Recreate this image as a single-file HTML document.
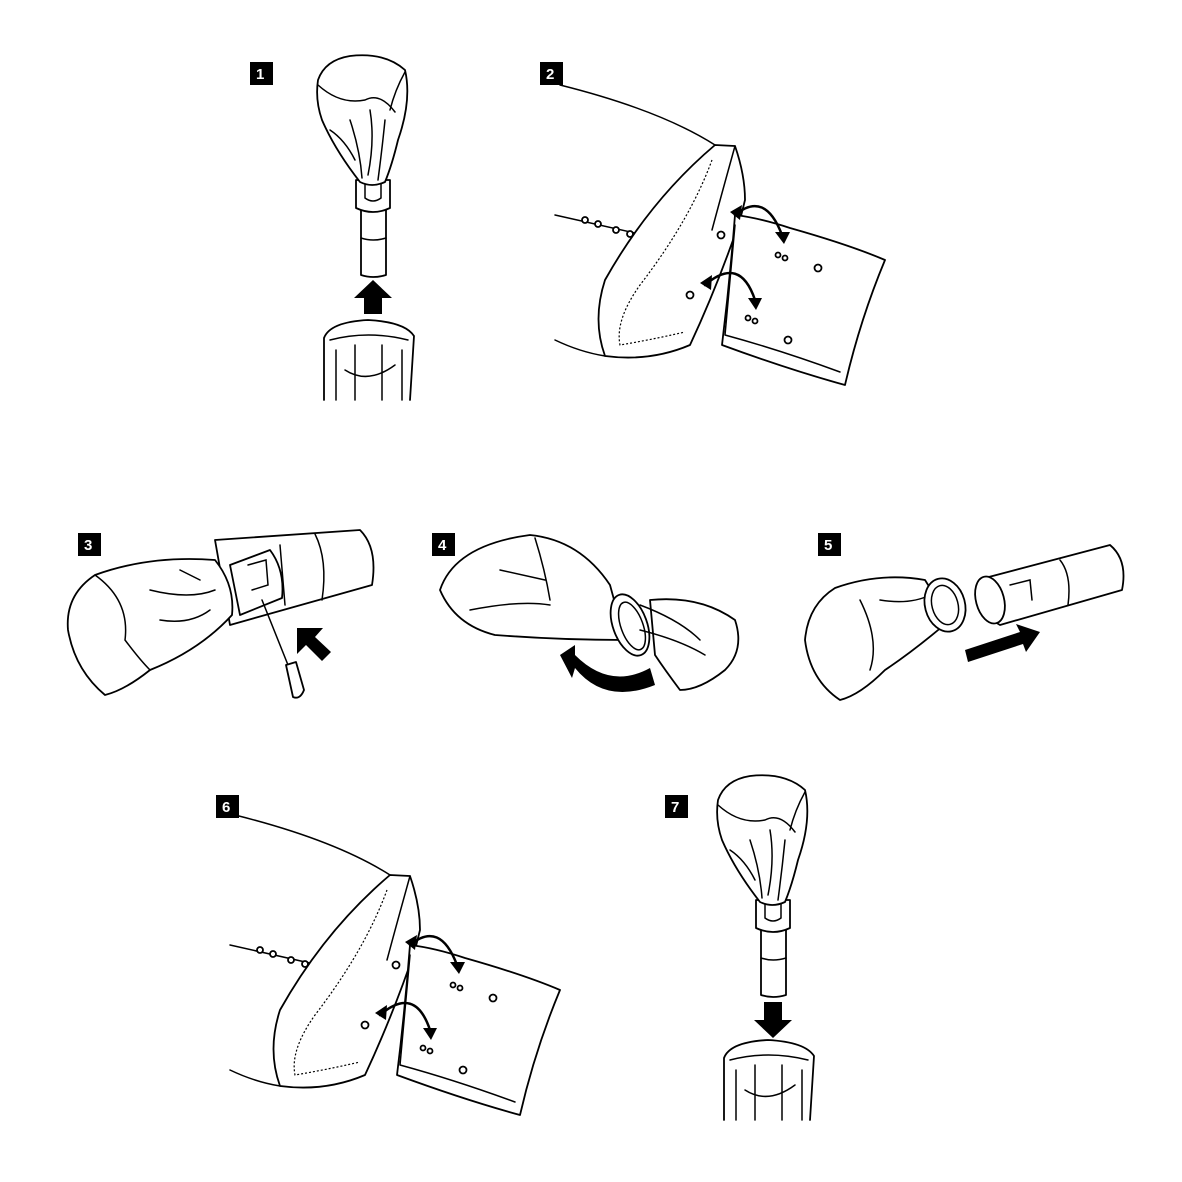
<!DOCTYPE html>
<html><head><meta charset="utf-8"><style>
html,body{margin:0;padding:0;background:#fff;}
svg{display:block}
text{font-family:"Liberation Sans",sans-serif;font-weight:bold;font-size:15px;fill:#fff}
.l{fill:#fff;stroke:#000;stroke-width:1.8;stroke-linejoin:round;stroke-linecap:round}
.n{fill:none;stroke:#000;stroke-width:1.5;stroke-linecap:round}
.d{fill:none;stroke:#000;stroke-width:1.2;stroke-dasharray:2 2}
.b{fill:#000}
</style></head><body>
<svg width="1182" height="1182" viewBox="0 0 1182 1182" xmlns="http://www.w3.org/2000/svg">
<defs>
<g id="p1">
  <path class="l" d="M324,400 L324,338 Q330,322 368,320 Q405,322 414,336 L410,400"/>
  <path class="n" d="M330,340 Q368,330 408,340 M336,350 L336,400 M402,350 L402,400 M355,345 L355,400 M382,345 L382,400 M345,370 Q368,385 395,365"/>
  <path class="l" d="M361,205 L361,275 Q373,279 386,275 L386,205 Z"/>
  <path class="n" d="M361,238 Q373,242 386,238"/>
  <path class="l" d="M356,180 L356,208 Q373,216 390,208 L390,180 Z"/>
  <path class="n" d="M365,184 L365,198 Q373,204 381,198 L381,184"/>
  <path class="l" d="M318,80 Q325,60 350,56 Q385,52 405,70 Q412,100 398,140 Q392,165 385,182 Q372,188 360,182 Q335,150 322,120 Q315,100 318,80 Z"/>
  <path class="n" d="M318,85 Q340,105 365,100 Q380,92 395,112 M405,72 Q395,90 390,110 M370,110 Q375,140 368,175 M350,120 Q360,150 362,178 M385,120 Q382,150 378,180 M330,130 Q345,140 355,160"/>
</g>
<g id="p2">
  <path class="n" d="M560,85 Q660,110 715,145"/>
  <path class="n" d="M555,215 Q600,225 648,236"/>
  <circle class="l" cx="585" cy="220" r="3"/><circle class="l" cx="598" cy="224" r="3"/><circle class="l" cx="616" cy="230" r="3"/><circle class="l" cx="630" cy="234" r="3"/>
  <path class="n" d="M555,340 Q580,352 605,356"/>
  <path class="l" d="M715,145 L735,146 Q745,175 745,200 L740,220 Q718,285 690,345 Q650,362 605,356 Q592,320 605,280 Q650,200 715,145 Z"/>
  <path class="d" d="M712,160 Q690,220 640,285 Q615,320 620,345 Q650,340 685,332"/>
  <path class="n" d="M735,146 Q720,200 712,230"/>
  <circle class="l" cx="721" cy="235" r="3.5"/><circle class="l" cx="690" cy="295" r="3.5"/>
  <path class="l" d="M735,215 Q760,218 790,228 Q850,245 885,260 Q860,320 845,385 Q790,370 722,345 Q730,280 735,215 Z"/>
  <path class="n" d="M735,225 L725,335 M725,335 Q780,350 840,372"/>
  <circle class="l" cx="818" cy="268" r="3.5"/><circle class="l" cx="788" cy="340" r="3.5"/>
  <circle class="l" cx="778" cy="255" r="2.5"/><circle class="l" cx="785" cy="258" r="2.5"/>
  <circle class="l" cx="748" cy="318" r="2.5"/><circle class="l" cx="755" cy="321" r="2.5"/>
  <path class="n" style="stroke-width:2.5" d="M735,215 Q765,190 782,235"/>
  <path class="b" d="M730,212 L742,205 L740,220 Z M775,232 L790,232 L784,244 Z"/>
  <path class="n" style="stroke-width:2.5" d="M705,285 Q740,255 755,300"/>
  <path class="b" d="M700,283 L712,275 L711,290 Z M748,298 L762,298 L756,310 Z"/>
</g>
</defs>

<rect x="250" y="62" width="23" height="23"/><text x="256" y="79">1</text>
<rect x="540" y="62" width="23" height="23"/><text x="546" y="79">2</text>
<rect x="78" y="533" width="23" height="23"/><text x="84" y="550">3</text>
<rect x="432" y="533" width="23" height="23"/><text x="438" y="550">4</text>
<rect x="818" y="533" width="23" height="23"/><text x="824" y="550">5</text>
<rect x="216" y="795" width="23" height="23"/><text x="222" y="812">6</text>
<rect x="665" y="795" width="23" height="23"/><text x="671" y="812">7</text>

<use href="#p1"/>
<path class="b" d="M373,280 L392,298 L382,298 L382,314 L364,314 L364,298 L354,298 Z"/>
<use href="#p2"/>

<g transform="translate(-325,730)"><use href="#p2"/></g>
<g transform="translate(400,720)"><use href="#p1"/></g>
<path class="b" d="M773,1038 L792,1020 L782,1020 L782,1002 L764,1002 L764,1020 L754,1020 Z"/>

<path class="l" d="M215,540 L360,530 Q378,548 372,585 L230,625 Z"/>
<path class="n" d="M315,534 Q328,560 322,600 M280,545 L285,605"/>
<path class="l" d="M230,565 L270,550 Q285,570 282,598 L240,615 Z"/>
<path class="n" d="M248,565 L266,560 L268,585 L252,590"/>
<path class="l" d="M95,575 Q150,555 215,560 Q235,585 232,615 Q200,650 150,670 Q125,690 105,695 Q75,670 68,630 Q65,595 95,575 Z"/>
<path class="n" d="M95,575 Q130,600 125,640 Q140,660 150,670 M150,590 Q190,600 215,590 M160,620 Q190,625 210,610 M180,570 L200,580"/>
<path class="n" d="M262,600 L290,670"/>
<path class="l" d="M286,665 L296,662 L304,690 Q300,700 293,697 Z"/>
<path class="b" d="M297,628 L323,628 L315,637 L331,652 L322,661 L306,645 L297,654 Z"/>

<path class="l" d="M440,590 Q455,545 530,535 Q580,540 610,585 L625,640 Q560,640 495,635 Q455,625 440,590 Z"/>
<path class="n" d="M535,538 Q545,570 550,600 M470,610 Q520,600 550,605 M500,570 L545,580"/>
<path class="l" d="M650,600 Q700,595 735,620 Q745,650 725,670 Q700,690 680,690 Q665,670 655,655 Z"/>
<ellipse class="l" cx="630" cy="625" rx="17" ry="32" transform="rotate(-20 630 625)"/>
<ellipse class="n" cx="632" cy="626" rx="11" ry="25" transform="rotate(-20 632 626)"/>
<path class="n" d="M640,605 Q680,620 700,640 M640,630 Q680,640 705,655"/>
<path class="b" d="M560,655 L575,645 L575,655 Q610,690 650,668 L655,685 Q605,705 575,668 L572,678 Z"/>

<path class="l" d="M835,588 Q880,572 925,580 L950,620 Q915,650 885,670 Q860,695 840,700 Q810,680 805,640 Q808,605 835,588 Z"/>
<path class="n" d="M860,600 Q880,640 870,670 M880,600 Q910,605 930,595"/>
<ellipse class="l" cx="945" cy="605" rx="20" ry="27" transform="rotate(-15 945 605)"/>
<ellipse class="n" cx="945" cy="605" rx="13" ry="20" transform="rotate(-15 945 605)"/>
<path class="l" d="M985,578 L1110,545 Q1128,560 1122,590 L1000,625 Q975,612 985,578 Z"/>
<ellipse class="l" cx="990" cy="600" rx="14" ry="24" transform="rotate(-15 990 600)"/>
<path class="n" d="M1060,560 Q1072,575 1068,605 M1010,585 L1030,580 L1032,600"/>
<path class="b" d="M965,650 L1020,632 L1016,624 L1040,632 L1026,652 L1023,644 L968,662 Z"/>
</svg>
</body></html>
